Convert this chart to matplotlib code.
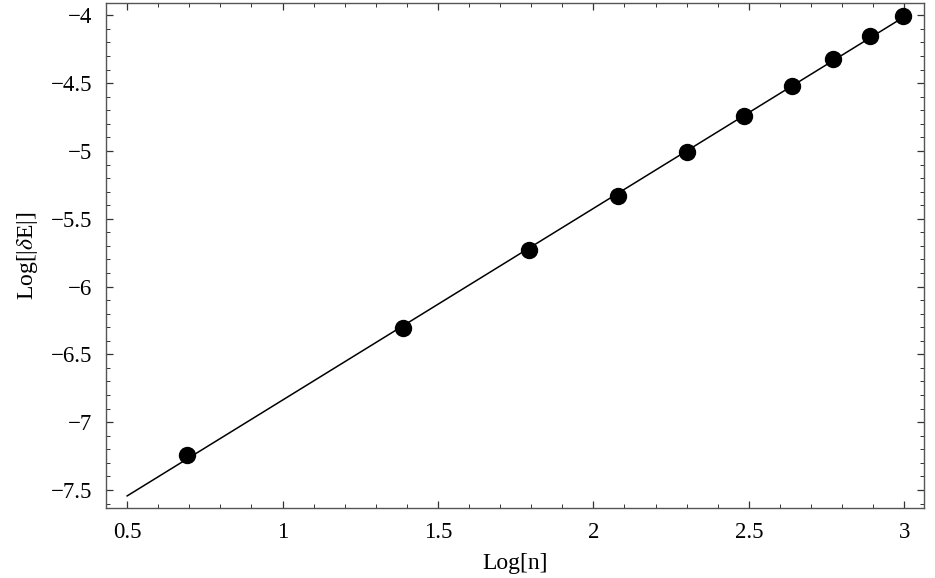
import numpy as np
import matplotlib
matplotlib.use("Agg")
import matplotlib.pyplot as plt
from matplotlib.ticker import MultipleLocator

# datos: Log[n] contra Log[|dE|]
n_vals = [2, 4, 6, 8, 10, 12, 14, 16, 18, 20]
log_dE = [-7.245, -6.304, -5.731, -5.330, -5.006, -4.745, -4.521, -4.325, -4.153, -4.003]
fit_range = [0.5, 3.0]

log_n = np.log(n_vals)
pend, corte = np.polyfit(log_n, log_dE, 1)
x_fit = np.array(fit_range)
y_fit = pend * x_fit + corte

plt.rcParams['font.family'] = ['Liberation Serif', 'DejaVu Serif']
plt.rcParams['mathtext.fontset'] = 'stix'

fig = plt.figure(figsize=(9.35, 5.78), dpi=100)
ax = fig.add_axes([0.1134, 0.1211, 0.8749, 0.8737])

ax.plot(x_fit, y_fit, color='black', lw=1.1)
ax.plot(log_n, log_dE, 'o', color='black', markersize=11.5)

ax.set_xlim(0.432, 3.064)
ax.set_ylim(-7.633, -3.909)

ax.xaxis.set_major_locator(MultipleLocator(0.5))
ax.xaxis.set_minor_locator(MultipleLocator(0.1))
ax.yaxis.set_major_locator(MultipleLocator(0.5))
ax.yaxis.set_minor_locator(MultipleLocator(0.1))

fmt = lambda v, p: ('%g' % v).replace('-', '\u2212')
ax.xaxis.set_major_formatter(fmt)
ax.yaxis.set_major_formatter(fmt)

ax.tick_params(which='both', direction='in', top=True, right=True,
               color='#333333', labelsize=16.5, pad=10)
ax.tick_params(which='major', length=5, width=0.9)
ax.tick_params(which='minor', length=3, width=0.7)
for s in ax.spines.values():
    s.set_color('#555555')
    s.set_linewidth(1.0)

ax.set_xlabel('Log[n]', fontsize=17, labelpad=7)
ax.set_ylabel('Log[|$\\delta$E|]', fontsize=17)
ax.yaxis.set_label_coords(-0.081, 0.5)

plt.savefig('out.png', dpi=100)
